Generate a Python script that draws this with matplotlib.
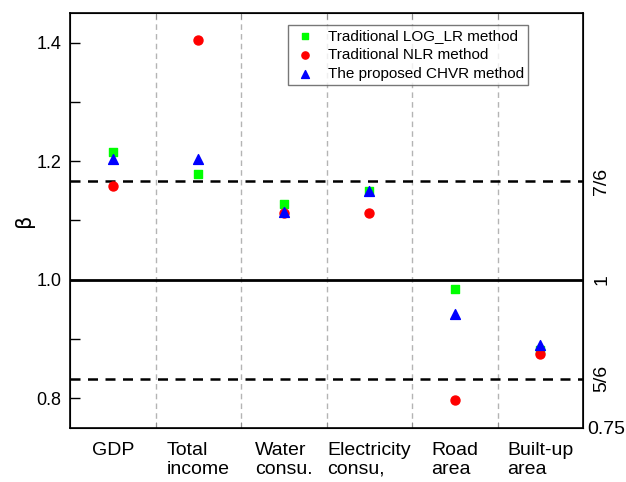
import matplotlib.pyplot as plt

plt.rcParams['font.family'] = ['Liberation Sans', 'DejaVu Sans']

# scaling exponents per indicator
indicators = ["GDP", "Total\nincome", "Water\nconsu.", "Electricity\nconsu,", "Road\narea", "Built-up\narea"]
beta_log_lr = [1.215, 1.179, 1.127, 1.150, 0.985, 0.882]
beta_nlr = [1.158, 1.405, 1.113, 1.113, 0.798, 0.875]
beta_chvr = [1.203, 1.204, 1.115, 1.150, 0.943, 0.890]

left_ticks = [0.8, 0.9, 1.0, 1.1, 1.2, 1.3, 1.4]
left_labels = ["0.8", "", "1.0", "", "1.2", "", "1.4"]
ref_ticks = [7 / 6, 1.0, 5 / 6, 0.75]
ref_labels = ["7/6", "1", "5/6", "0.75"]

fig = plt.figure(figsize=(6.26, 4.82), dpi=100)
ax = fig.add_axes([70 / 626, 1 - 428 / 482, 513 / 626, 415 / 482])

x = list(range(len(indicators)))

# category separators
for b in range(1, len(indicators)):
    ax.axvline(b - 0.5, color='#b4b4b4', linestyle=(0, (4, 3)), linewidth=1, zorder=1)

ax.axhline(1.0, color='black', linewidth=2, zorder=2)
ax.axhline(7 / 6, color='black', linewidth=1.8, linestyle=(0, (4, 3)), zorder=2)
ax.axhline(5 / 6, color='black', linewidth=1.8, linestyle=(0, (4, 3)), zorder=2)

ax.scatter(x, beta_log_lr, marker='s', s=36, color='#00ff00', label='Traditional LOG_LR method', zorder=3)
ax.scatter(x, beta_nlr, marker='o', s=42, color='#ff0000', label='Traditional NLR method', zorder=4)
ax.scatter(x, beta_chvr, marker='^', s=50, color='#0000ff', label='The proposed CHVR method', zorder=5)

ax.set_xlim(-0.5, len(indicators) - 0.5)
ax.set_ylim(0.75, 1.45)

ax.set_xticks(x)
ax.set_xticklabels(indicators, fontsize=14, multialignment='left', linespacing=1.15)
ax.set_xticks([b - 0.5 for b in range(1, len(indicators))], minor=True)
ax.tick_params(axis='x', which='major', length=0, pad=10)
ax.tick_params(axis='x', which='minor', direction='in', length=4, top=True, color='#888888')

ax.set_yticks(left_ticks)
ax.set_yticklabels(left_labels, fontsize=13)
ax.tick_params(axis='y', direction='in', length=7, right=True, width=1, pad=6)
ax.set_ylabel('β', fontsize=15, family='DejaVu Sans')
ax.yaxis.set_label_coords(-0.07, 0.5)

for s in ax.spines.values():
    s.set_linewidth(1.2)

# reference exponents on the right side
ax2 = ax.twinx()
ax2.set_ylim(ax.get_ylim())
ax2.set_yticks(ref_ticks)
ax2.set_yticklabels(ref_labels, fontsize=14)
ax2.tick_params(axis='y', length=0, pad=3)
for lbl in ax2.get_yticklabels()[:3]:
    lbl.set_rotation(90)
    lbl.set_va('center')
    lbl.set_x(1.012)

ax.legend(loc='upper left', bbox_to_anchor=(0.41, 0.99), fontsize=11, frameon=True,
          fancybox=False, edgecolor='#555555', handletextpad=0.7, borderpad=0.3,
          labelspacing=0.3, handlelength=1.6, scatterpoints=1, markerscale=0.8)

fig.savefig('out.png', dpi=100)
